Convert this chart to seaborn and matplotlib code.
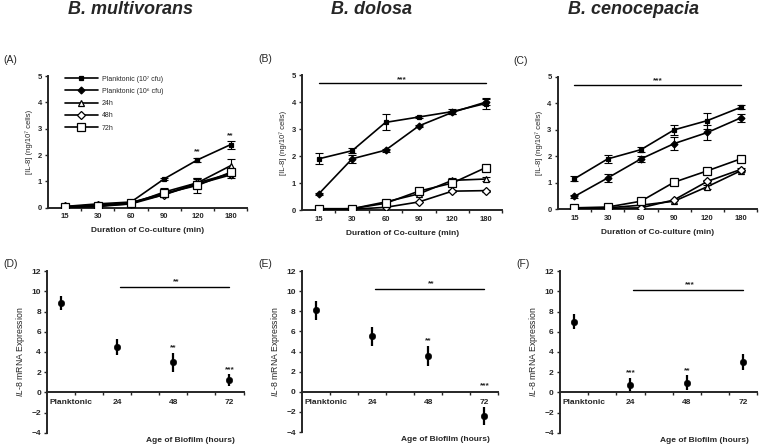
import numpy as np
import matplotlib
matplotlib.use("Agg")
import matplotlib.pyplot as plt
import seaborn as sns

# time points (min) for the co-culture panels
times = ['15', '30', '60', '90', '120', '180']
series_labels = ['Planktonic (10⁷ cfu)', 'Planktonic (10⁶ cfu)', '24h', '48h', '72h']

# (A) B. multivorans
mult_p7 = [0.05, 0.15, 0.22, 1.10, 1.82, 2.40]
mult_p7_err = [0, 0, 0, 0.03, 0.08, 0.15]
mult_p6 = [0.03, 0.08, 0.15, 0.50, 0.90, 1.25]
mult_p6_err = [0, 0, 0, 0.08, 0.10, 0.10]
mult_24 = [0.03, 0.05, 0.15, 0.60, 0.95, 1.60]
mult_24_err = [0, 0, 0, 0.15, 0.20, 0.25]
mult_48 = [0.05, 0.10, 0.20, 0.50, 0.95, 1.30]
mult_48_err = [0, 0, 0, 0.10, 0.15, 0.10]
mult_72 = [0.02, 0.05, 0.20, 0.55, 0.85, 1.35]
mult_72_err = [0, 0, 0, 0.10, 0.30, 0.10]

# (B) B. dolosa
dol_p7 = [1.90, 2.20, 3.25, 3.45, 3.65, 3.95]
dol_p7_err = [0.20, 0.10, 0.30, 0.05, 0.08, 0.20]
dol_p6 = [0.60, 1.90, 2.22, 3.12, 3.62, 4.00]
dol_p6_err = [0.05, 0.15, 0.06, 0.05, 0.05, 0.10]
dol_24 = [0.03, 0.05, 0.30, 0.60, 1.10, 1.15]
dol_24_err = [0, 0, 0.05, 0.05, 0.08, 0.08]
dol_48 = [0.02, 0.03, 0.10, 0.30, 0.70, 0.72]
dol_48_err = [0, 0, 0, 0, 0.04, 0.04]
dol_72 = [0.05, 0.05, 0.25, 0.70, 1.00, 1.57]
dol_72_err = [0, 0, 0, 0.05, 0.05, 0.10]

# (C) B. cenocepacia
cen_p7 = [1.15, 1.90, 2.25, 3.00, 3.35, 3.85]
cen_p7_err = [0.10, 0.15, 0.10, 0.20, 0.30, 0.08]
cen_p6 = [0.48, 1.18, 1.90, 2.48, 2.90, 3.45]
cen_p6_err = [0.05, 0.15, 0.10, 0.25, 0.30, 0.15]
cen_24 = [0.02, 0.05, 0.15, 0.30, 0.85, 1.45]
cen_24_err = [0, 0, 0, 0, 0.08, 0.05]
cen_48 = [0.02, 0.03, 0.05, 0.35, 1.05, 1.50]
cen_48_err = [0, 0, 0, 0, 0.05, 0.05]
cen_72 = [0.05, 0.08, 0.30, 1.02, 1.45, 1.90]
cen_72_err = [0, 0, 0, 0, 0.05, 0.05]

# significance stars on the top row (index, height, text)
mult_top_stars = [(4, 2.0, '**'), (5, 2.6, '**')]

# IL-8 mRNA expression panels
ages = ['Planktonic', '24', '48', '72']
mult_mrna = [8.8, 4.5, 3.0, 1.2]
mult_mrna_err = [0.7, 0.75, 0.95, 0.6]
mult_stars = ['', '', '**', '***']
mult_star_y = [0, 0, 4.1, 1.9]
dol_mrna = [8.1, 5.5, 3.6, -2.4]
dol_mrna_err = [0.95, 0.95, 1.0, 0.85]
dol_stars = ['', '', '**', '***']
dol_star_y = [0, 0, 4.7, 0.25]
cen_mrna = [7.0, 0.7, 0.95, 3.0]
cen_mrna_err = [0.75, 0.75, 0.75, 0.8]
cen_stars = ['', '***', '**', '']
cen_star_y = [0, 1.6, 1.8, 0]
bracket_text = ['**', '**', '***']
bracket_y = [10.4, 10.25, 10.15]

species = ['B. multivorans', 'B. dolosa', 'B. cenocepacia']

sns.set_style('ticks')
plt.rcParams['font.family'] = ['Liberation Sans', 'DejaVu Sans']
plt.rcParams['mathtext.fontset'] = 'custom'
plt.rcParams['mathtext.it'] = 'Liberation Sans:italic'
plt.rcParams['mathtext.rm'] = 'Liberation Sans'

fig = plt.figure(figsize=(7.61, 4.45), dpi=100)

top_boxes = [[0.063, 0.533, 0.262, 0.296], [0.397, 0.528, 0.263, 0.303], [0.733, 0.530, 0.262, 0.297]]
bot_boxes = [[0.062, 0.027, 0.258, 0.364], [0.397, 0.029, 0.258, 0.362], [0.736, 0.027, 0.259, 0.364]]

top_data = [
    [(mult_p7, mult_p7_err), (mult_p6, mult_p6_err), (mult_24, mult_24_err), (mult_48, mult_48_err), (mult_72, mult_72_err)],
    [(dol_p7, dol_p7_err), (dol_p6, dol_p6_err), (dol_24, dol_24_err), (dol_48, dol_48_err), (dol_72, dol_72_err)],
    [(cen_p7, cen_p7_err), (cen_p6, cen_p6_err), (cen_24, cen_24_err), (cen_48, cen_48_err), (cen_72, cen_72_err)],
]
marker_styles = [
    dict(marker='s', markersize=2.5, markerfacecolor='black'),
    dict(marker='D', markersize=3.5, markerfacecolor='black'),
    dict(marker='^', markersize=5, markerfacecolor='white'),
    dict(marker='D', markersize=4, markerfacecolor='white'),
    dict(marker='s', markersize=5.5, markerfacecolor='white'),
]

x = np.arange(len(times))
for i, box in enumerate(top_boxes):
    ax = fig.add_axes(box)
    handles = []
    for (vals, err), ms in zip(top_data[i], marker_styles):
        sns.lineplot(x=x, y=vals, ax=ax, color='black', lw=1.2, markeredgecolor='black',
                     markeredgewidth=0.9, errorbar=None, zorder=3, **ms)
        handles.append(ax.lines[-1])
        err = np.array(err)
        m = err > 0
        if m.any():
            ax.errorbar(x[m], np.array(vals)[m], yerr=err[m], fmt='none', ecolor='black',
                        elinewidth=0.8, capsize=3, capthick=0.8, zorder=2)
    ax.set_xlim(-0.5, 5.5)
    ax.set_ylim(0, 5)
    ax.set_yticks(range(6))
    ax.set_xticks(x)
    ax.set_xticklabels(times)
    ax.set_xticks(np.arange(0.5, 6, 1), minor=True)
    ax.tick_params(axis='x', which='major', length=0, pad=4)
    ax.tick_params(axis='x', which='minor', length=2.5, width=1, direction='out')
    ax.tick_params(axis='y', length=2.5, width=1, pad=2)
    for lab in ax.get_xticklabels() + ax.get_yticklabels():
        lab.set_fontsize(5.5)
        lab.set_fontweight('bold')
    for s in ['left', 'bottom']:
        ax.spines[s].set_linewidth(1.4)
    sns.despine(ax=ax)
    ax.set_ylabel('[IL-8] (ng/10⁷ cells)', fontsize=5.5, labelpad=3)
    ax.set_xlabel('Duration of Co-culture (min)', fontsize=6, fontweight='bold', labelpad=5)
    if i == 0:
        for xi, yv, t in mult_top_stars:
            ax.text(xi, yv, t, ha='center', va='bottom', fontsize=6, fontweight='bold')
        ax.legend(handles=handles, labels=series_labels, loc='upper left', bbox_to_anchor=(0.06, 1.04),
                  frameon=False, fontsize=5, handlelength=4.8, labelspacing=0.75, handletextpad=0.5,
                  borderpad=0.2)
    else:
        ax.plot([0, 5], [4.7, 4.7], color='black', lw=1)
        ax.text(2.5, 4.72, '***', ha='center', va='bottom', fontsize=6, fontweight='bold')
    fig.text(box[0] - 0.058, box[1] + box[3] + 0.03, '(' + 'ABC'[i] + ')', fontsize=7.5)

bot_data = [
    (mult_mrna, mult_mrna_err, mult_stars, mult_star_y),
    (dol_mrna, dol_mrna_err, dol_stars, dol_star_y),
    (cen_mrna, cen_mrna_err, cen_stars, cen_star_y),
]
xa = np.arange(len(ages))
label_shift = [0.17, 0, 0, 0]
for i, box in enumerate(bot_boxes):
    ax = fig.add_axes(box)
    vals, err, stars, star_y = bot_data[i]
    ax.errorbar(xa, vals, yerr=err, fmt='none', ecolor='black', elinewidth=1.6, zorder=2)
    sns.scatterplot(x=xa, y=vals, ax=ax, color='black', s=22, edgecolor='black', zorder=3)
    for xi, t, yv in zip(xa, stars, star_y):
        if t:
            ax.text(xi, yv, t, ha='center', va='bottom', fontsize=6, fontweight='bold')
    ax.plot([1.05, 3.0], [bracket_y[i], bracket_y[i]], color='black', lw=1)
    ax.text(2.05, bracket_y[i] + 0.15, bracket_text[i], ha='center', va='bottom', fontsize=6, fontweight='bold')
    ax.set_xlim(-0.25, 3.25)
    ax.set_ylim(-4, 12)
    ax.set_yticks(range(-4, 13, 2))
    ax.set_xticks(xa + np.array(label_shift))
    ax.set_xticklabels(ages)
    ax.set_xticks(np.arange(0.25, 3.3, 0.5), minor=True)
    ax.spines['bottom'].set_position(('data', 0))
    ax.tick_params(axis='x', which='major', length=0, pad=5)
    ax.tick_params(axis='x', which='minor', length=2.5, width=1, direction='out')
    ax.tick_params(axis='y', length=2.5, width=1, pad=2)
    for lab in ax.get_xticklabels() + ax.get_yticklabels():
        lab.set_fontsize(6)
        lab.set_fontweight('bold')
    for s in ['left', 'bottom']:
        ax.spines[s].set_linewidth(1.4)
    sns.despine(ax=ax)
    ax.set_ylabel(r'$\mathit{IL}$-$\mathit{8}$ mRNA Expression', fontsize=6.3, labelpad=3)
    ax.text(0.73, -0.025, 'Age of Biofilm (hours)', transform=ax.transAxes, ha='center', va='top',
            fontsize=6, fontweight='bold')
    fig.text(box[0] - 0.057, box[1] + box[3] + 0.01, '(' + 'DEF'[i] + ')', fontsize=7.5)

title_x = [0.172, 0.488, 0.833]
for tx, name in zip(title_x, species):
    fig.text(tx, 0.979, name, ha='center', va='center', fontsize=13, fontweight='bold', fontstyle='italic')

fig.savefig('out.png', dpi=100)
